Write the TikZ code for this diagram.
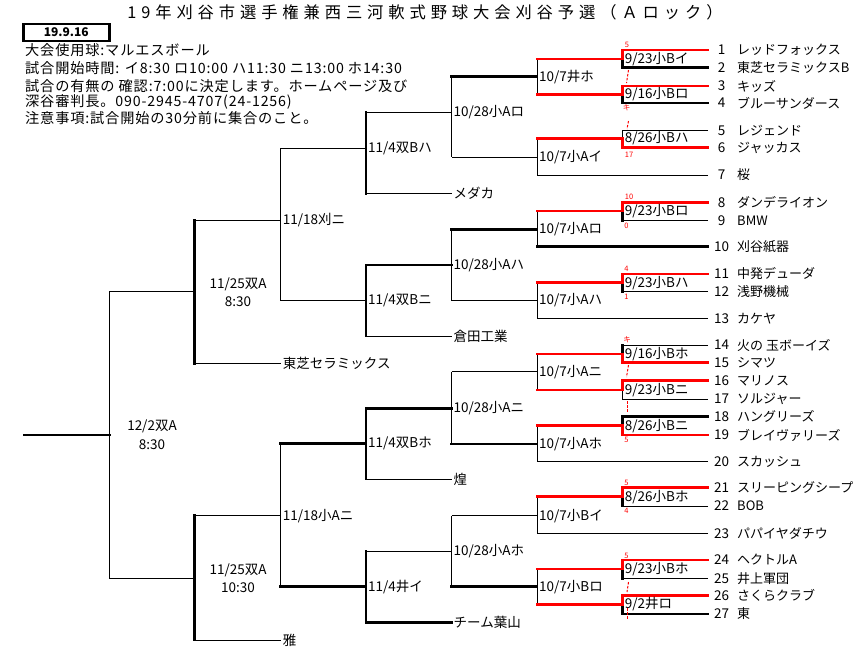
\documentclass[tikz,border=0pt]{standalone}
\usepackage{fontspec}
\newfontfamily\jpm{Noto Sans CJK JP}
\newfontfamily\jpt[LetterSpace=30]{Noto Sans CJK JP}
\newfontfamily\jpn[LetterSpace=6]{Noto Sans CJK JP}
\tikzset{
 ln/.style={line width=1pt,black},
 bk/.style={line width=2.6pt,black,line cap=rect},
 rd/.style={line width=2.6pt,red,line cap=rect},
 lab/.style={anchor=west,inner sep=0pt,font=\jpm\fontsize{13.5}{13.5}\selectfont},
 team/.style={anchor=west,inner sep=0pt,font=\jpm\fontsize{13}{13}\selectfont},
 clab/.style={anchor=center,inner sep=0pt,font=\jpm\fontsize{13.5}{13.5}\selectfont},
 note/.style={anchor=west,inner sep=0pt,font=\jpn\fontsize{14.2}{14.2}\selectfont},
 sc/.style={red,inner sep=0pt,font=\jpm\fontsize{7.5}{7.5}\selectfont},
 rdd/.style={red,line width=1pt,dash pattern=on 2.5pt off 1.5pt},
}
\begin{document}
\begin{tikzpicture}[x=1pt,y=-1pt]
\useasboundingbox (0,0) rectangle (858,651);
\fill[white] (0,0) rectangle (858,651);
% ---------- header ----------
\node[inner sep=0pt,font=\jpt\fontsize{16.3}{16.3}\selectfont] (title) at (425,12) {19年刈谷市選手権兼西三河軟式野球大会刈谷予選（Ａロック）};
\node[draw,line width=2.6pt,minimum width=86pt,minimum height=17pt,inner sep=0pt,font=\jpm\bfseries\fontsize{12}{12}\selectfont] (date) at (66.3,32.5) {19.9.16};
\node[note] (n1) at (25,50) {大会使用球:マルエスボール};
\node[note] (n2) at (25,68.5) {試合開始時間: イ8:30 ロ10:00 ハ11:30 ニ13:00 ホ14:30};
\node[note] (n3) at (25,85.7) {試合の有無の 確認:7:00に決定します。ホームページ及び};
\node[note] (n4) at (25,101.7) {深谷審判長。090-2945-4707(24-1256)};
\node[note] (n5) at (25,118.3) {注意事項:試合開始の30分前に集合のこと。};
% ---------- column x references ----------
\coordinate (cB) at (622.7,0);
\coordinate (cM) at (537,0);
\coordinate (cQ) at (451.5,0);
\coordinate (cR) at (366,0);
\coordinate (cS) at (280.7,0);
\coordinate (cU) at (194.7,0);
\coordinate (cF) at (109.3,0);
% ---------- teams ----------
\coordinate (t1) at (708,50);
\coordinate (t2) at (708,67.7);
\coordinate (t3) at (708,86);
\coordinate (t4) at (708,103);
\coordinate (t5) at (708,130.7);
\coordinate (t6) at (708,147.7);
\coordinate (t7) at (708,175);
\coordinate (t8) at (708,202.3);
\coordinate (t9) at (708,220.7);
\coordinate (t10) at (708,246.7);
\coordinate (t11) at (708,274);
\coordinate (t12) at (708,291.7);
\coordinate (t13) at (708,318.5);
\coordinate (t14) at (708,345);
\coordinate (t15) at (708,362.7);
\coordinate (t16) at (708,380.7);
\coordinate (t17) at (708,399);
\coordinate (t18) at (708,416.7);
\coordinate (t19) at (708,435);
\coordinate (t20) at (708,461.7);
\coordinate (t21) at (708,487.7);
\coordinate (t22) at (708,506);
\coordinate (t23) at (708,533.3);
\coordinate (t24) at (708,560);
\coordinate (t25) at (708,578.3);
\coordinate (t26) at (708,595.7);
\coordinate (t27) at (708,614);
\foreach \i/\nm in {1/レッドフォックス,2/東芝セラミックスB,3/キッズ,4/ブルーサンダース,5/レジェンド,6/ジャッカス,7/桜,8/ダンデライオン,9/BMW,10/刈谷紙器,11/中発デューダ,12/浅野機械,13/カケヤ,14/火の 玉ボーイズ,15/シマツ,16/マリノス,17/ソルジャー,18/ハングリーズ,19/ブレイヴァリーズ,20/スカッシュ,21/スリーピングシープ,22/BOB,23/パパイヤダチウ,24/ヘクトルA,25/井上軍団,26/さくらクラブ,27/東}{
  \node[clab] (num\i) at ([xshift=13.5pt]t\i) {\i};
  \node[team] (tn\i) at ([xshift=29pt]t\i) {\nm};
}
% ---------- round 1 joins ----------
\coordinate (bA) at (622.7,59);
\coordinate (bB) at (622.7,94.5);
\coordinate (bC) at (622.7,138.5);
\coordinate (bD) at (622.7,211);
\coordinate (bE) at (622.7,282.7);
\coordinate (bF) at (622.7,354);
\coordinate (bG) at (622.7,390);
\coordinate (bH) at (622.7,425.7);
\coordinate (bI) at (622.7,496.7);
\coordinate (bJ) at (622.7,569);
\coordinate (bK) at (622.7,604.3);
% ---------- round 2 joins ----------
\coordinate (mA) at (537,76.7);
\coordinate (mB) at (537,157);
\coordinate (mC) at (537,229.3);
\coordinate (mD) at (537,300.5);
\coordinate (mE) at (537,371.7);
\coordinate (mF) at (537,444);
\coordinate (mG) at (537,515.7);
\coordinate (mH) at (537,586.7);
% ---------- round 3 joins ----------
\coordinate (qA) at (451.5,112);
\coordinate (qB) at (451.5,265);
\coordinate (qC) at (451.5,408.3);
\coordinate (qD) at (451.5,551);
\coordinate (dMe) at (451.5,193.3);
\coordinate (dKu) at (451.5,336);
\coordinate (dKo) at (451.5,479);
\coordinate (dHa) at (451.5,622.5);
% ---------- round 4 joins ----------
\coordinate (rA) at (366,148.3);
\coordinate (rB) at (366,300.5);
\coordinate (rC) at (366,443.5);
\coordinate (rD) at (366,586.7);
% ---------- round 5 / 6 / final ----------
\coordinate (sA) at (280.7,220);
\coordinate (sB) at (280.7,515.7);
\coordinate (dTo) at (280.7,363.3);
\coordinate (dMi) at (280.7,640);
\coordinate (uA) at (194.7,291.7);
\coordinate (uB) at (194.7,578.3);
\coordinate (fin) at (109.3,435);
\coordinate (st) at (24,435);
% ---------- round 1 boxes ----------
\draw[bk] (t2) -| (bA);  \draw[rd] (t1) -| (bA);
\draw[bk] (t4) -| (bB);  \draw[rd] (t3) -| (bB);
\draw[ln] (t5) -| (bC);  \draw[rd] (t6) -| (bC);
\draw[ln] (t9) -- (t9 -| cB); \draw[bk] (t9 -| cB) -- (bD); \draw[rd] (t8) -| (bD);
\draw[ln] (t12) -- (t12 -| cB); \draw[bk] (t12 -| cB) -- (bE); \draw[rd] (t11) -| (bE);
\draw[ln] (t14) -- (t14 -| cB); \draw[bk] (t14 -| cB) -- (bF); \draw[rd] (t15) -| (bF);
\draw[ln] (t17) -| (bG); \draw[rd] (t16) -| (bG);
\draw[bk] (t18) -| (bH); \draw[rd] (t19) -| (bH);
\draw[ln] (t22) -- (t22 -| cB); \draw[bk] (t22 -| cB) -- (bI); \draw[rd] (t21) -| (bI);
\draw[ln] (t25) -- (t25 -| cB); \draw[bk] (t25 -| cB) -- (bJ); \draw[rd] (t24) -| (bJ);
\draw[bk] (t27) -| (bK); \draw[rd] (t26) -| (bK);
% ---------- round 2 ----------
\draw[ln] (bA -| cM) -- (bB -| cM);
\draw[ln] (bC -| cM) -- (t7 -| cM);
\draw[ln] (bD -| cM) -- (t10 -| cM);
\draw[ln] (bE -| cM) -- (t13 -| cM);
\draw[ln] (bF -| cM) -- (bG -| cM);
\draw[ln] (bH -| cM) -- (t20 -| cM);
\draw[ln] (bI -| cM) -- (t23 -| cM);
\draw[ln] (bJ -| cM) -- (bK -| cM);
\foreach \b in {bA,bB,bC,bD,bE,bF,bG,bH,bI,bJ,bK}{\draw[rd] (\b) -- (\b -| cM);}
\draw[ln] (t7) -- (t7 -| cM);
\draw[bk] (t10) -- (t10 -| cM);
\draw[ln] (t13) -- (t13 -| cM);
\draw[ln] (t20) -- (t20 -| cM);
\draw[ln] (t23) -- (t23 -| cM);
% ---------- round 3 ----------
\draw[ln] (mA -| cQ) -- (mB -| cQ);
\draw[ln] (mC -| cQ) -- (mD -| cQ);
\draw[ln] (mE -| cQ) -- (mF -| cQ);
\draw[ln] (mG -| cQ) -- (mH -| cQ);
\draw[bk] (mA) -- (mA -| cQ);
\draw[ln] (mB) -- (mB -| cQ);
\draw[bk] (mC) -- (mC -| cQ);
\draw[ln] (mD) -- (mD -| cQ);
\draw[ln] (mE) -- (mE -| cQ);
\draw[bk] (mF) -- (mF -| cQ);
\draw[ln] (mG) -- (mG -| cQ);
\draw[bk] (mH) -- (mH -| cQ);
% ---------- round 4 ----------
\draw[ln] (qA) -- (qA -| cR);
\draw[ln] (dMe) -- (dMe -| cR);
\draw[bk] (qB) -- (qB -| cR);
\draw[ln] (dKu) -- (dKu -| cR);
\draw[bk] (qC) -- (qC -| cR);
\draw[ln] (dKo) -- (dKo -| cR);
\draw[ln] (qD) -- (qD -| cR);
\draw[bk] (dHa) -- (dHa -| cR);
\draw[bk] (qA -| cR) -- (dMe -| cR);
\draw[bk] (qB -| cR) -- (dKu -| cR);
\draw[bk] (qC -| cR) -- (dKo -| cR);
\draw[bk] (qD -| cR) -- (dHa -| cR);
% ---------- round 5 ----------
\draw[ln] (rA) -- (rA -| cS);
\draw[ln] (rB) -- (rB -| cS);
\draw[bk] (rC) -- (rC -| cS);
\draw[bk] (rD) -- (rD -| cS);
\draw[ln] (rA -| cS) -- (rB -| cS);
\draw[ln] (rC -| cS) -- (rD -| cS);
% ---------- round 6 ----------
\draw[ln] (sA) -- (sA -| cU);
\draw[ln] (dTo) -- (dTo -| cU);
\draw[ln] (sB) -- (sB -| cU);
\draw[ln] (dMi) -- (dMi -| cU);
\draw[bk] (sA -| cU) -- (dTo -| cU);
\draw[bk] (sB -| cU) -- (dMi -| cU);
% ---------- final ----------
\draw[ln] (uA) -- (uA -| cF);
\draw[ln] (uB) -- (uB -| cF);
\draw[ln] (uA -| cF) -- (uB -| cF);
\draw[bk] (fin) -- (st);
% ---------- match labels ----------
\node[lab] (LbA) at ([xshift=2pt]bA) {9/23小Bイ};
\node[lab] (LbB) at ([xshift=2pt]bB) {9/16小Bロ};
\node[lab] (LbC) at ([xshift=2pt]bC) {8/26小Bハ};
\node[lab] (LbD) at ([xshift=2pt]bD) {9/23小Bロ};
\node[lab] (LbE) at ([xshift=2pt]bE) {9/23小Bハ};
\node[lab] (LbF) at ([xshift=2pt]bF) {9/16小Bホ};
\node[lab] (LbG) at ([xshift=2pt]bG) {9/23小Bニ};
\node[lab] (LbH) at ([xshift=2pt]bH) {8/26小Bニ};
\node[lab] (LbI) at ([xshift=2pt]bI) {8/26小Bホ};
\node[lab] (LbJ) at ([xshift=2pt]bJ) {9/23小Bホ};
\node[lab] (LbK) at ([xshift=2pt]bK) {9/2井ロ};
\node[lab] (LmA) at ([xshift=2pt]mA) {10/7井ホ};
\node[lab] (LmB) at ([xshift=2pt]mB) {10/7小Aイ};
\node[lab] (LmC) at ([xshift=2pt]mC) {10/7小Aロ};
\node[lab] (LmD) at ([xshift=2pt]mD) {10/7小Aハ};
\node[lab] (LmE) at ([xshift=2pt]mE) {10/7小Aニ};
\node[lab] (LmF) at ([xshift=2pt]mF) {10/7小Aホ};
\node[lab] (LmG) at ([xshift=2pt]mG) {10/7小Bイ};
\node[lab] (LmH) at ([xshift=2pt]mH) {10/7小Bロ};
\node[lab] (LqA) at ([xshift=2pt]qA) {10/28小Aロ};
\node[lab] (LqB) at ([xshift=2pt]qB) {10/28小Aハ};
\node[lab] (LqC) at ([xshift=2pt]qC) {10/28小Aニ};
\node[lab] (LqD) at ([xshift=2pt]qD) {10/28小Aホ};
\node[lab] (LMe) at ([xshift=2pt]dMe) {メダカ};
\node[lab] (LKu) at ([xshift=2pt]dKu) {倉田工業};
\node[lab] (LKo) at ([xshift=2pt]dKo) {煌};
\node[lab] (LHa) at ([xshift=2pt]dHa) {チーム葉山};
\node[lab] (LrA) at ([xshift=2pt]rA) {11/4双Bハ};
\node[lab] (LrB) at ([xshift=2pt]rB) {11/4双Bニ};
\node[lab] (LrC) at ([xshift=2pt]rC) {11/4双Bホ};
\node[lab] (LrD) at ([xshift=2pt]rD) {11/4井イ};
\node[lab] (LsA) at ([xshift=2pt]sA) {11/18刈ニ};
\node[lab] (LsB) at ([xshift=2pt]sB) {11/18小Aニ};
\node[lab] (LTo) at ([xshift=2pt]dTo) {東芝セラミックス};
\node[lab] (LMi) at ([xshift=2pt]dMi) {雅};
\node[clab] (LuA1) at (238,284.3) {11/25双A};
\node[clab] (LuA2) at (238,302) {8:30};
\node[clab] (LuB1) at (238,570) {11/25双A};
\node[clab] (LuB2) at (238,587.3) {10:30};
\node[clab] (Lf1) at (152,426.7) {12/2双A};
\node[clab] (Lf2) at (152,445) {8:30};
% ---------- red score marks ----------
\node[sc] (s1) at (627,44.5) {5};
\draw[rdd] (628.5,70) -- (626.5,83);
\node[sc] (s2) at (626.5,108) {キ};
\draw[rdd] (628.5,121) -- (627,129);
\node[sc] (s3) at (629,154.5) {17};
\node[sc] (s4) at (629,196.5) {10};
\node[sc] (s5) at (626.5,225.5) {0};
\node[sc] (s6) at (626.5,269) {4};
\node[sc] (s7) at (626.5,296.5) {1};
\node[sc] (s8) at (627,339.5) {キ};
\draw[rdd] (628.5,365) -- (626.5,377);
\draw[rdd] (627,401) -- (627,413);
\node[sc] (s9) at (626.5,440) {5};
\node[sc] (s10) at (626.5,483) {5};
\node[sc] (s11) at (626.5,511) {4};
\node[sc] (s12) at (626.5,555.5) {5};
\draw[rdd] (628.5,582) -- (627,592);
\draw[rdd] (627,608) -- (627,620);
\end{tikzpicture}
\end{document}
